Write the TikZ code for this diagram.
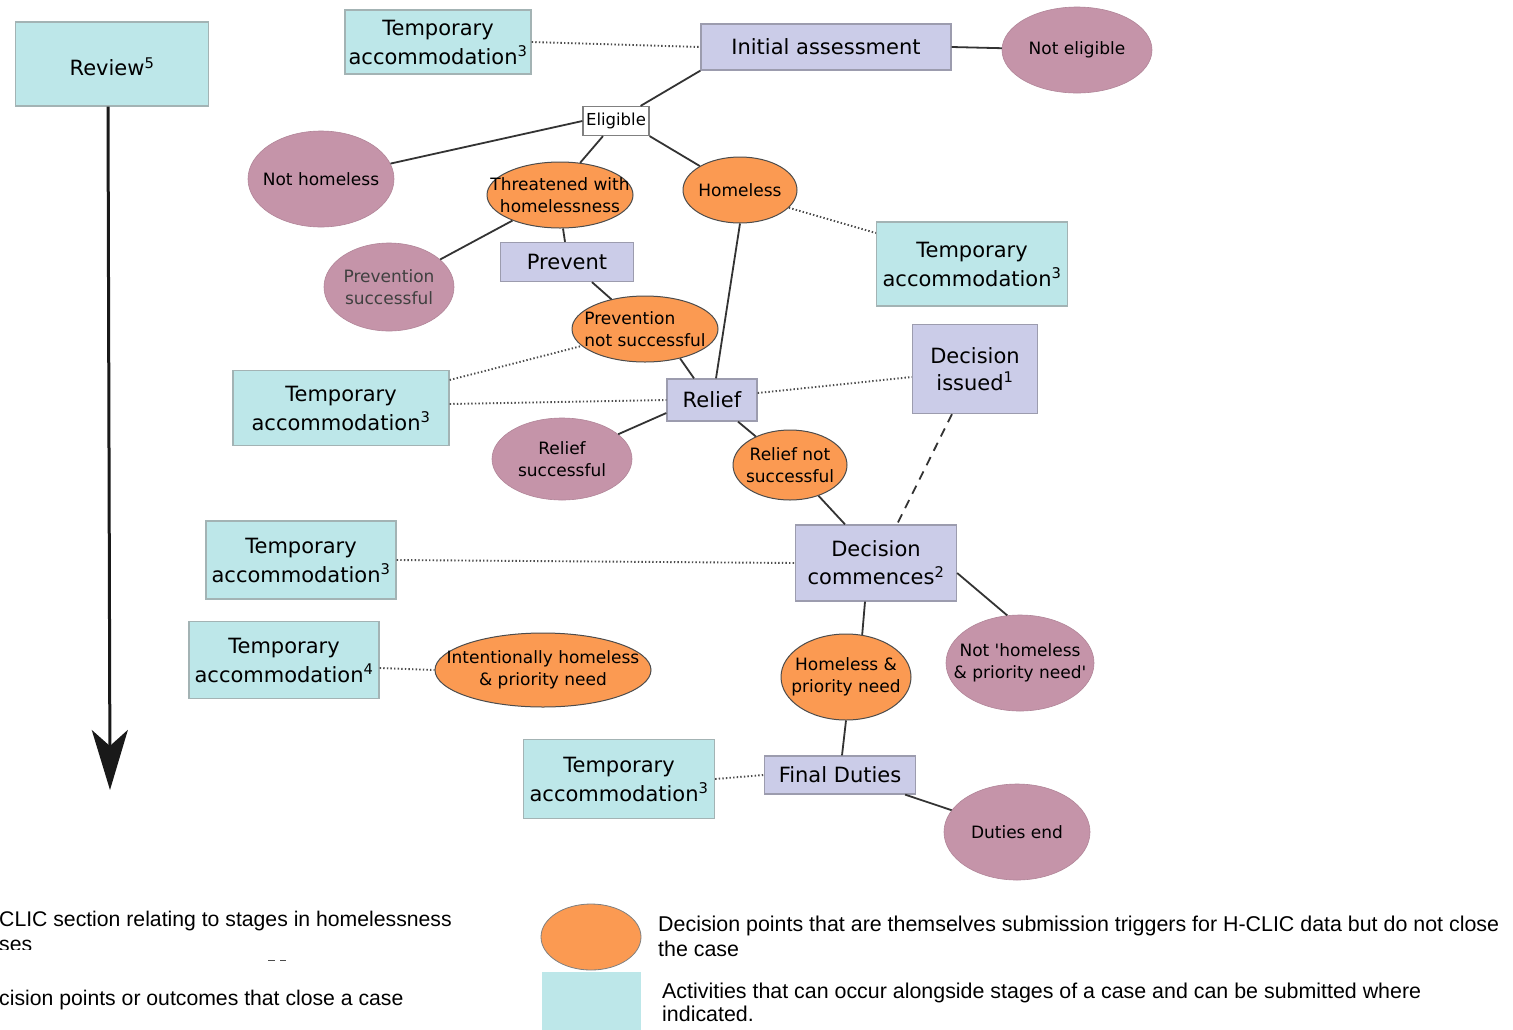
\documentclass[tikz,border=0pt]{standalone}
\usepackage{fontspec}
\setmainfont{DejaVu Sans}
\newfontfamily\legfont{Liberation Sans}
\usetikzlibrary{shapes.geometric,arrows.meta,calc}
\definecolor{tacyan}{HTML}{BDE7E9}
\definecolor{tagray}{HTML}{A3B3B4}
\definecolor{lavfill}{HTML}{CBCCE8}
\definecolor{lavgray}{HTML}{9C9CAE}
\definecolor{mauve}{HTML}{C594A9}
\definecolor{orng}{HTML}{FB9A52}
\begin{document}
\begin{tikzpicture}[x=1pt,y=-1pt,
  ta/.style={rectangle, draw=tagray, fill=tacyan, line width=1.3pt, inner sep=0pt, align=center, font=\fontsize{21}{29}\selectfont},
  lav/.style={rectangle, draw=lavgray, fill=lavfill, line width=1.3pt, inner sep=0pt, align=center, font=\fontsize{21}{28}\selectfont},
  lbl/.style={inner sep=0pt, align=center, font=\fontsize{17}{22}\selectfont},
  mv/.style={ellipse, fill=mauve, draw=mauve!90!black, line width=0.6pt, inner sep=0pt},
  og/.style={ellipse, fill=orng, draw=black!70, line width=1pt, inner sep=0pt},
  con/.style={draw=black!80, line width=1.8pt},
  dots/.style={draw=black!70, line width=1.9pt, dash pattern=on 1.4pt off 2.2pt},
  dsh/.style={draw=black!80, line width=1.8pt, dash pattern=on 9pt off 7pt},
  leg/.style={inner sep=0pt, anchor=base west, font=\legfont\fontsize{21.2}{25}\selectfont}
]
\clip (0,0) rectangle (1513,1029);
\fill[white] (0,0) rectangle (1513,1029);

% ---------- nodes ----------
\node[ta, minimum width=193pt, minimum height=84pt, label={[inner sep=0pt, yshift=-3pt, font=\fontsize{21}{29}\selectfont]center:Review\textsuperscript{5}}] (rev) at (112,64) {};
\coordinate (revend) at (110,790);

\node[ta, minimum width=186pt, minimum height=64pt] (tatop) at (438,42) {Temporary\\accommodation\textsuperscript{3}};
\node[lav, minimum width=250pt, minimum height=46pt] (ia) at (826,47) {Initial assessment};
\node[mv, minimum width=150pt, minimum height=86pt, label={[lbl]center:Not eligible}] (ne) at (1077,50) {};
\node[rectangle, draw=black!50, fill=white, line width=1.2pt, minimum width=66pt, minimum height=29pt, inner sep=0pt, font=\fontsize{16.5}{20}\selectfont] (el) at (616,121) {Eligible};
\node[mv, minimum width=146pt, minimum height=96pt, label={[lbl]center:Not homeless}] (nh) at (321,179) {};
\node[og, minimum width=146pt, minimum height=66pt, label={[lbl]center:Threatened with\\homelessness}] (th) at (560,195) {};
\node[og, minimum width=114pt, minimum height=66pt, label={[lbl]center:Homeless}] (hl) at (740,190) {};
\node[ta, minimum width=191pt, minimum height=84pt] (tar) at (972,264) {Temporary\\accommodation\textsuperscript{3}};
\node[mv, minimum width=130pt, minimum height=88pt, label={[lbl, text=black!75]center:Prevention\\successful}] (ps) at (389,287) {};
\node[lav, minimum width=133pt, minimum height=39pt] (pv) at (567,262) {Prevent};
\node[og, minimum width=146pt, minimum height=66pt, label={[lbl, align=left]center:Prevention\\not successful}] (pns) at (645,329) {};
\node[lav, minimum width=90pt, minimum height=42pt] (rl) at (712,400) {Relief};
\node[ta, minimum width=216pt, minimum height=75pt] (tal) at (341,408) {Temporary\\accommodation\textsuperscript{3}};
\node[lav, minimum width=125pt, minimum height=89pt, font=\fontsize{21}{27}\selectfont] (di) at (975,369) {Decision\\issued\textsuperscript{1}};
\node[mv, minimum width=140pt, minimum height=82pt, label={[lbl]center:Relief\\successful}] (rs) at (562,459) {};
\node[og, minimum width=114pt, minimum height=70pt, label={[lbl]center:Relief not\\successful}] (rns) at (790,465) {};
\node[lav, minimum width=161pt, minimum height=76pt] (dc) at (876,563) {Decision\\commences\textsuperscript{2}};
\node[ta, minimum width=190pt, minimum height=78pt] (ta3) at (301,560) {Temporary\\accommodation\textsuperscript{3}};
\node[mv, minimum width=148pt, minimum height=96pt, label={[lbl]center:Not \textquotesingle homeless\\\& priority need\textquotesingle}] (nhpn) at (1020,663) {};
\node[og, minimum width=130pt, minimum height=86pt, label={[lbl]center:Homeless \&\\priority need}] (hpn) at (846,677) {};
\node[ta, minimum width=190pt, minimum height=77pt] (ta4) at (284,660) {Temporary\\accommodation\textsuperscript{4}};
\node[og, minimum width=216pt, minimum height=74pt, label={[lbl]center:Intentionally homeless\\\& priority need}] (ih) at (543,670) {};
\node[lav, minimum width=151pt, minimum height=38pt] (fd) at (840,775) {Final Duties};
\node[ta, minimum width=191pt, minimum height=79pt] (tab) at (619,779) {Temporary\\accommodation\textsuperscript{3}};
\node[mv, minimum width=146pt, minimum height=96pt, label={[lbl]center:Duties end}] (de) at (1017,832) {};

% ---------- connectors ----------
\draw[draw=black!90, line width=3pt, -{Stealth[length=60pt,width=36pt,inset=16pt]}] ([xshift=-4pt]rev.south) -- (revend);

\draw[dots] (tatop.east) -- (ia.west);
\draw[con] (ia.east) -- (ne);
\draw[con] (ia.south west) -- ([xshift=-9pt]el.north east);
\draw[con] (el.west) -- (nh);
\draw[con] ([xshift=-13pt]el.south) -- (th.58);
\draw[con] (el.south east) -- (hl);
\draw[dots] (hl.-20) -- ([yshift=31pt]tar.west);
\draw[con] (th) -- (ps);
\draw[con] ([xshift=3pt]th.south) -- ([xshift=-2pt]pv.north);
\draw[con] ([xshift=25pt]pv.south) -- (pns);
\draw[con] (hl.south) -- ([xshift=4pt]rl.north);
\draw[con] (pns.-40) -- ([xshift=-18pt]rl.north);
\draw[dots] ([yshift=28pt]tal.east) -- (pns.195);
\draw[dots] ([yshift=4pt]tal.east) -- (rl.west);
\draw[dots] ([yshift=7pt]rl.east) -- ([yshift=-8pt]di.west);
\draw[con] ([yshift=-13pt]rl.west) -- (rs);
\draw[con] ([xshift=26pt]rl.south) -- (rns);
\draw[con] (rns) -- ([xshift=-31pt]dc.north);
\draw[dsh] ([xshift=-23pt]di.south) -- ([xshift=21pt]dc.north);
\draw[dots] (ta3.east) -- (dc.west);
\draw[con] ([yshift=-10pt]dc.east) -- (nhpn.105);
\draw[con] ([xshift=-11pt]dc.south) -- (hpn.69);
\draw[dots] ([yshift=-8pt]ta4.east) -- (ih.west);
\draw[con] (hpn.south) -- ([xshift=2pt]fd.north);
\draw[dots] (tab.east) -- (fd.west);
\draw[con] ([xshift=-11pt]fd.south east) -- (de);

% ---------- legend ----------
\node[leg] (l1) at (-1,926) {CLIC section relating to stages in homelessness};
\begin{scope}
\clip (0,930) rectangle (300,949);
\node[leg] (l2) at (-1,951) {ses};
\end{scope}
\draw[black!70, line width=1pt] (268,960) -- (275,960) (280,960) -- (286,960);
\node[leg] (l3) at (-1,1005) {cision points or outcomes that close a case};

\node[ellipse, fill=orng, draw=black!50, line width=0.8pt, minimum width=100pt, minimum height=66pt, inner sep=0pt] (lego) at (591,937) {};
\node[rectangle, fill=tacyan, minimum width=99pt, minimum height=70pt, inner sep=0pt, anchor=north west] (legc) at (542,972) {};
\node[leg, font=\legfont\fontsize{21.4}{25}\selectfont] (l4) at (658,931) {Decision points that are themselves submission triggers for H-CLIC data but do not close};
\node[leg, font=\legfont\fontsize{21.4}{25}\selectfont] (l5) at (658,956) {the case};
\node[leg, font=\legfont\fontsize{21.4}{25}\selectfont] (l6) at (662,998) {Activities that can occur alongside stages of a case and can be submitted where};
\node[leg, font=\legfont\fontsize{21.4}{25}\selectfont] (l7) at (662,1021) {indicated.};
\end{tikzpicture}
\end{document}
